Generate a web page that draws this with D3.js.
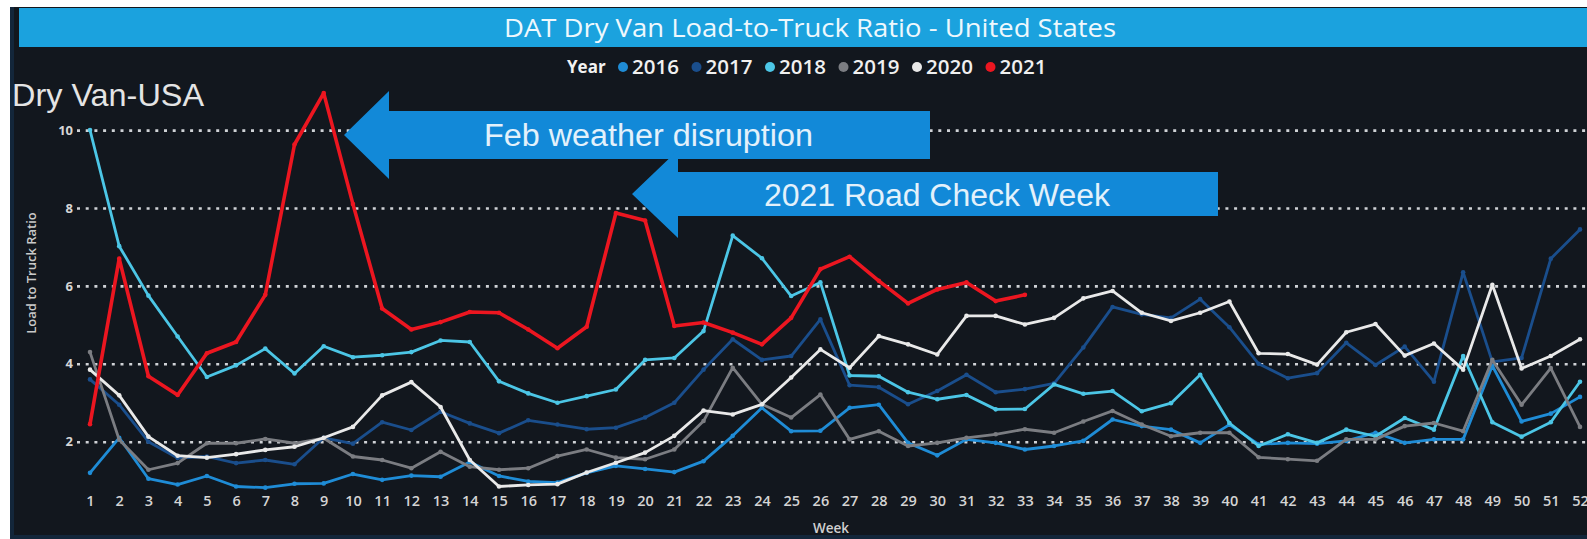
<!DOCTYPE html>
<html>
<head>
<meta charset="utf-8">
<script src="https://cdn.jsdelivr.net/npm/d3@7"></script>
<style>
  html, body { margin: 0; padding: 0; background: #ffffff; overflow: hidden; }
  svg { display: block; }
</style>
</head>
<body>
<svg id="chart" width="1587" height="539"></svg>
<script>
// ---------------- DATA ----------------
const weeks = [1,2,3,4,5,6,7,8,9,10,11,12,13,14,15,16,17,18,19,20,21,22,23,24,25,26,
               27,28,29,30,31,32,33,34,35,36,37,38,39,40,41,42,43,44,45,46,47,48,49,50,51,52];
const years = ["2016","2017","2018","2019","2020","2021"];
const yTicks = [2, 4, 6, 8, 10];

const v2016 = [1.2,2.1,1.05,0.9,1.12,0.85,0.82,0.92,0.93,1.17,1.02,1.13,1.1,1.48,1.12,0.98,0.95,1.2,1.38,1.3,1.22,1.5,2.15,2.87,2.27,2.28,
               2.87,2.95,1.97,1.65,2.06,1.97,1.8,1.89,2.02,2.57,2.4,2.31,1.97,2.44,1.93,1.97,1.95,2.02,2.23,1.97,2.06,2.06,3.95,2.52,2.72,3.15];
const v2017 = [3.6,2.95,2.0,1.58,1.62,1.45,1.53,1.42,2.1,1.95,2.5,2.3,2.77,2.47,2.22,2.55,2.44,2.32,2.36,2.62,3.0,3.85,4.63,4.1,4.2,5.14,
               3.45,3.4,2.96,3.3,3.72,3.27,3.35,3.5,4.42,5.46,5.27,5.18,5.66,4.94,4.0,3.63,3.76,4.54,3.97,4.44,3.54,6.35,4.05,4.15,6.7,7.45];
const v2018 = [10.0,7.02,5.75,4.7,3.66,3.96,4.39,3.75,4.45,4.17,4.22,4.3,4.6,4.56,3.55,3.24,3.0,3.17,3.34,4.1,4.15,4.84,7.29,6.71,5.74,6.09,
               3.7,3.68,3.27,3.09,3.2,2.83,2.84,3.47,3.23,3.3,2.78,2.99,3.72,2.48,1.89,2.19,1.97,2.31,2.14,2.61,2.31,4.2,2.5,2.13,2.5,3.54];
const v2019 = [4.3,2.05,1.28,1.45,1.96,1.96,2.07,1.96,2.09,1.62,1.53,1.32,1.74,1.36,1.28,1.32,1.63,1.8,1.59,1.55,1.8,2.53,3.9,2.96,2.62,3.21,
               2.06,2.27,1.89,1.97,2.1,2.19,2.32,2.23,2.52,2.79,2.44,2.14,2.23,2.23,1.6,1.55,1.51,2.06,2.06,2.4,2.48,2.27,4.1,2.95,3.89,2.38];
const v2020 = [3.85,3.19,2.13,1.64,1.59,1.68,1.79,1.87,2.1,2.38,3.19,3.53,2.89,1.53,0.85,0.89,0.91,1.21,1.46,1.72,2.15,2.8,2.7,2.96,3.65,4.37,
               3.9,4.71,4.5,4.24,5.23,5.23,5.01,5.18,5.68,5.87,5.31,5.1,5.31,5.6,4.27,4.25,3.98,4.81,5.02,4.21,4.52,3.85,6.03,3.88,4.2,4.63];
const v2021 = [2.45,6.7,3.68,3.2,4.27,4.56,5.77,9.63,10.95,8.1,5.42,4.88,5.07,5.33,5.31,4.88,4.4,4.95,7.87,7.68,4.97,5.06,4.8,4.5,5.18,6.43,
               6.75,6.13,5.55,5.91,6.09,5.61,5.77];

const colors = ["#1f8cd6", "#1a4e8c", "#4cc6e6", "#7b7d82", "#e9e9e9", "#ec1620"];
const seriesValues = [v2016, v2017, v2018, v2019, v2020, v2021];

const titleText = "DAT Dry Van Load-to-Truck Ratio - United States";
const subTitle = "Dry Van-USA";
const yLabel = "Load to Truck Ratio";
const xLabel = "Week";
const legendTitle = "Year";
const annotations = ["Feb weather disruption", "2021 Road Check Week"];

// ---------------- LAYOUT ----------------
const W = 1587, H = 539;
const svg = d3.select("#chart");

// panel
svg.append("rect").attr("x", 10).attr("y", 7).attr("width", W - 10).attr("height", H - 7)
  .attr("fill", "#12171e");
svg.append("rect").attr("x", 10).attr("y", 7).attr("width", 4).attr("height", H - 7)
  .attr("fill", "#13263a");
svg.append("rect").attr("x", 10).attr("y", 535).attr("width", W - 10).attr("height", 4)
  .attr("fill", "#13263a");

// title bar
svg.append("rect").attr("x", 19).attr("y", 8).attr("width", W - 19).attr("height", 39)
  .attr("fill", "#1ba2de");
svg.append("text").attr("x", 810).attr("y", 37).attr("text-anchor", "middle")
  .attr("font-family", "'Open Sans', 'Noto Sans', sans-serif").attr("font-size", 26)
  .attr("textLength", 612).attr("lengthAdjust", "spacingAndGlyphs")
  .attr("fill", "#eef8fd").text(titleText);

// scales
const x = d3.scalePoint().domain(weeks).range([90, 1580]);
const y = d3.scaleLinear().domain([0, 10]).range([519.6, 130.1]);

// gridlines
const grid = svg.append("g")
  .call(d3.axisLeft(y).tickValues(yTicks).tickSize(-(W - 77)).tickFormat(""))
  .attr("transform", "translate(77,0)");
grid.select(".domain").remove();
grid.selectAll(".tick line").attr("stroke", "#cfd2d6").attr("stroke-width", 2.6)
  .attr("stroke-dasharray", "3 5.7");

// y tick labels
const yAx = svg.append("g").attr("transform", "translate(73,0)")
  .call(d3.axisLeft(y).tickValues(yTicks).tickSize(0).tickPadding(0));
yAx.select(".domain").remove();
yAx.selectAll("text").attr("font-family", "'Open Sans', sans-serif").attr("font-weight", 700)
  .attr("font-size", 13).attr("fill", "#d6d6d6");

// x tick labels
const xAx = svg.append("g").attr("transform", "translate(0,496)")
  .call(d3.axisBottom(x).tickSize(0).tickPadding(0));
xAx.select(".domain").remove();
xAx.selectAll("text").attr("font-family", "'Open Sans', sans-serif").attr("font-weight", 600)
  .attr("font-size", 14.5).attr("fill", "#d4d4d4").attr("dy", "0.71em");

// axis titles
svg.append("text").attr("x", 831).attr("y", 533).attr("text-anchor", "middle")
  .attr("font-family", "'Open Sans', sans-serif").attr("font-weight", 600)
  .attr("font-size", 13.5).attr("fill", "#d0d0d0").text(xLabel);
svg.append("text").attr("transform", "translate(36,273) rotate(-90)").attr("text-anchor", "middle")
  .attr("font-family", "'Open Sans', sans-serif").attr("font-weight", 600)
  .attr("font-size", 13).attr("fill", "#c9c9c9").text(yLabel);

// subtitle
svg.append("text").attr("x", 12).attr("y", 106)
  .attr("font-family", "'Liberation Sans', Arial, sans-serif").attr("font-size", 32)
  .attr("textLength", 192).attr("lengthAdjust", "spacingAndGlyphs")
  .attr("fill", "#e4e4e4").text(subTitle);

// legend
const lg = svg.append("g").attr("transform", "translate(567,67)");
lg.append("text").attr("x", 0).attr("dy", "0.35em")
  .attr("font-family", "'Open Sans', sans-serif").attr("font-weight", 700)
  .attr("font-size", 17).attr("fill", "#f2f2f2").text(legendTitle);
years.forEach((yr, i) => {
  const cx = 56 + i * 73.5;
  lg.append("circle").attr("cx", cx).attr("cy", 0).attr("r", 5).attr("fill", colors[i]);
  lg.append("text").attr("x", cx + 9).attr("dy", "0.35em")
    .attr("font-family", "'Open Sans', sans-serif").attr("font-weight", 600)
    .attr("font-size", 20.5).attr("fill", "#f0f0f0").text(yr);
});

// series lines
const line = d3.line().x((d, i) => x(weeks[i])).y(d => y(d));
seriesValues.forEach((vals, i) => {
  const g = svg.append("g");
  g.append("path").datum(vals).attr("d", line).attr("fill", "none")
    .attr("stroke", colors[i]).attr("stroke-width", i === 5 ? 3.6 : 2.8)
    .attr("stroke-linejoin", "round").attr("stroke-linecap", "round");
  g.selectAll("circle").data(vals).join("circle")
    .attr("cx", (d, j) => x(weeks[j])).attr("cy", d => y(d)).attr("r", 2.3)
    .attr("fill", colors[i]);
});

// annotation arrows (left-pointing block arrows)
function blockArrow(tipX, cy, headBackX, endX, bodyHalf, headHalf) {
  return [[tipX, cy], [headBackX, cy - headHalf], [headBackX, cy - bodyHalf], [endX, cy - bodyHalf],
          [endX, cy + bodyHalf], [headBackX, cy + bodyHalf], [headBackX, cy + headHalf]];
}
const arrows = [
  { pts: blockArrow(344, 135, 389, 930, 24, 44), tx: 484, ty: 146, len: 329, text: annotations[0] },
  { pts: blockArrow(632, 194, 678, 1218, 22, 44), tx: 764, ty: 206, len: 346, text: annotations[1] }
];
arrows.forEach(a => {
  svg.append("polygon").attr("points", a.pts.map(p => p.join(",")).join(" "))
    .attr("fill", "#1289d8");
  svg.append("text").attr("x", a.tx).attr("y", a.ty)
    .attr("font-family", "'Liberation Sans', Arial, sans-serif").attr("font-size", 31)
    .attr("textLength", a.len).attr("lengthAdjust", "spacingAndGlyphs")
    .attr("fill", "#e3f1fb").text(a.text);
});
</script>
</body>
</html>
